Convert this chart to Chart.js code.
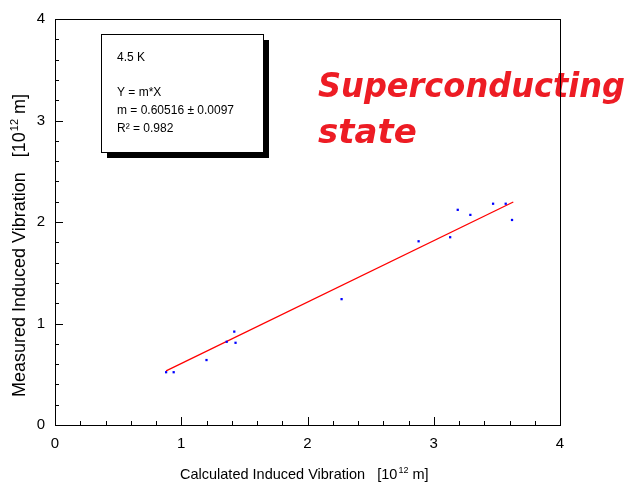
<!DOCTYPE html>
<html>
<head>
<meta charset="utf-8">
<script src="https://cdn.jsdelivr.net/npm/chart.js@4.4.1/dist/chart.umd.min.js"></script>
<style>
  html, body { margin: 0; padding: 0; background: #fff; }
  #wrap { width: 630px; height: 488px; position: relative; }
</style>
</head>
<body>
<div id="wrap"><canvas id="chart"></canvas></div>
<script>
// measured points (calculated vs measured, units of 10^12 m)
const calcX = [0.88, 0.94, 1.20, 1.36, 1.42, 1.43, 2.27, 2.88, 3.13, 3.19, 3.29, 3.47, 3.57, 3.62];
const measY = [0.52, 0.52, 0.64, 0.82, 0.92, 0.81, 1.24, 1.81, 1.85, 2.12, 2.07, 2.18, 2.18, 2.02];

// fit Y = m*X
const slope = 0.60516;
const fitX = [0.88, 3.63];

const axisTicks = [0, 1, 2, 3, 4];
const xTitle = ["Calculated Induced Vibration   [10", "12", " m]"];
const yTitle = ["Measured Induced Vibration   [10", "12", " m]"];
const boxLines = ["4.5 K", "", "Y = m*X", "m = 0.60516 \u00b1 0.0097", "R\u00b2 = 0.982"];
const noteLines = ["Superconducting", "state"];

const pointData = calcX.map((x, i) => ({ x: x, y: measY[i] }));
const fitData = fitX.map(x => ({ x: x, y: slope * x }));

// text with a superscript part, drawn from the current origin
function supText(ctx, parts, size) {
  let x = 0;
  ctx.font = size + "px 'Liberation Sans'";
  ctx.fillText(parts[0], x, 0);
  x += ctx.measureText(parts[0]).width + 1;
  ctx.font = Math.round(size * 0.6) + "px 'Liberation Sans'";
  ctx.fillText(parts[1], x, -size * 0.4);
  x += ctx.measureText(parts[1]).width;
  ctx.font = size + "px 'Liberation Sans'";
  ctx.fillText(parts[2], x, 0);
}

const frame = {
  id: "frame",
  afterDatasetsDraw(c) {
    const ctx = c.ctx;
    const a = c.chartArea;
    const xs = c.scales.x, ys = c.scales.y;
    ctx.save();
    ctx.strokeStyle = "#000";
    ctx.lineWidth = 1;

    // inward ticks, minor every 0.2
    ctx.beginPath();
    for (let i = 0; i <= 20; i++) {
      const v = i * 0.2;
      const len = i % 5 === 0 ? 8 : 4;
      const px = Math.round(xs.getPixelForValue(v)) + 0.5;
      ctx.moveTo(px, a.bottom);
      ctx.lineTo(px, a.bottom - len);
      const py = Math.round(ys.getPixelForValue(v)) + 0.5;
      ctx.moveTo(a.left, py);
      ctx.lineTo(a.left + len, py);
    }
    ctx.stroke();

    // note text (under the frame line)
    ctx.fillStyle = "#ed1c24";
    ctx.font = "italic bold 34px 'DejaVu Sans'";
    ctx.textBaseline = "alphabetic";
    ctx.fillText(noteLines[0], 318, 97, 307);
    ctx.fillText(noteLines[1], 318, 143);

    ctx.strokeRect(Math.round(a.left) + 0.5, Math.round(a.top) + 0.5,
      Math.round(a.right - a.left), Math.round(a.bottom - a.top));

    // axis titles
    ctx.fillStyle = "#000";
    ctx.save();
    ctx.translate(180, 479);
    supText(ctx, xTitle, 14.5);
    ctx.restore();
    ctx.save();
    ctx.translate(25, 397);
    ctx.rotate(-Math.PI / 2);
    supText(ctx, yTitle, 18);
    ctx.restore();

    // annotation box with shadow
    const bx = 101, by = 34, bw = 162, bh = 118;
    ctx.fillStyle = "#000";
    ctx.fillRect(bx + 6, by + 6, bw, bh);
    ctx.fillStyle = "#fff";
    ctx.fillRect(bx, by, bw, bh);
    ctx.strokeRect(bx + 0.5, by + 0.5, bw, bh);
    ctx.fillStyle = "#000";
    ctx.font = "12px 'Liberation Sans'";
    let ty = 61;
    boxLines.forEach((t, i) => {
      if (t) ctx.fillText(t, 117, ty);
      ty += i === 0 ? 17 : 18;
    });
    ctx.restore();
  }
};

chart = new Chart(document.getElementById("chart"), {
  type: "scatter",
  data: {
    datasets: [
      {
        data: pointData,
        pointStyle: "rect",
        pointRadius: 1.6,
        backgroundColor: "#0000ff",
        borderColor: "#0000ff",
        borderWidth: 0
      },
      {
        type: "line",
        data: fitData,
        borderColor: "#ff0000",
        borderWidth: 1.3,
        pointRadius: 0,
        fill: false
      }
    ]
  },
  options: {
    animation: false,
    responsive: true,
    maintainAspectRatio: false,
    layout: { padding: { top: 10, right: 70, left: 0, bottom: 0 } },
    plugins: { legend: { display: false }, tooltip: { enabled: false } },
    scales: {
      x: {
        type: "linear",
        min: 0, max: 4,
        afterBuildTicks: s => { s.ticks = axisTicks.map(v => ({ value: v })); },
        afterFit: s => { s.height = 63; },
        grid: { display: false, drawTicks: false },
        border: { display: false },
        ticks: { color: "#000", padding: 10, font: { family: "Liberation Sans", size: 15 } }
      },
      y: {
        type: "linear",
        min: 0, max: 4,
        afterBuildTicks: s => { s.ticks = axisTicks.map(v => ({ value: v })); },
        afterFit: s => { s.width = 55; },
        grid: { display: false, drawTicks: false },
        border: { display: false },
        ticks: { color: "#000", padding: 10, font: { family: "Liberation Sans", size: 15 } }
      }
    }
  },
  plugins: [frame]
});
</script>
</body>
</html>
